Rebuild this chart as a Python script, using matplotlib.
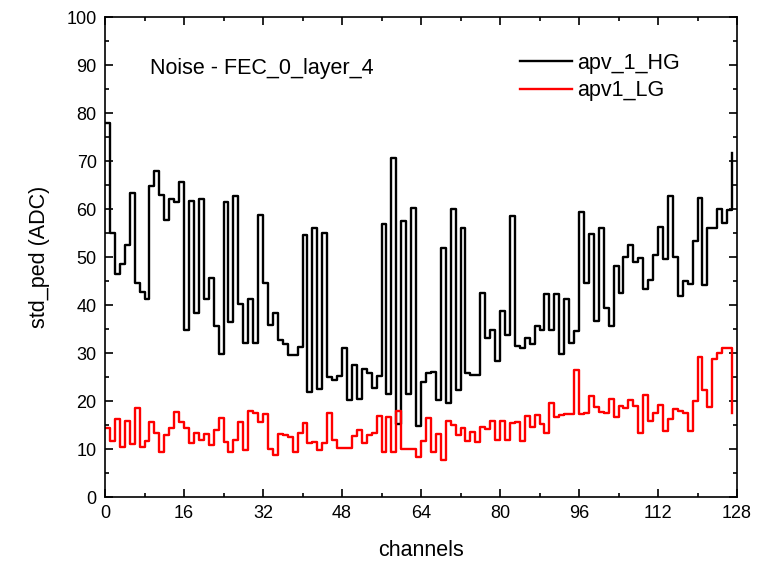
import numpy as np
import matplotlib
matplotlib.use("Agg")
import matplotlib.pyplot as plt
from matplotlib.ticker import MultipleLocator

plt.rcParams['font.family'] = ['Liberation Sans', 'DejaVu Sans']

# Pedestal noise per APV channel
channels = np.arange(128)

apv_1_HG = [
    78.0, 55.0, 46.5, 48.5, 52.4, 63.3, 44.5, 42.8, 41.3, 64.8, 68.0, 63.0, 57.7, 62.0, 61.4, 65.7,
    34.8, 61.7, 38.4, 62.1, 41.3, 45.7, 35.7, 29.8, 61.4, 36.5, 62.8, 40.2, 32.0, 41.2, 32.0, 58.8,
    44.5, 35.8, 38.4, 32.8, 31.9, 29.6, 29.5, 31.3, 54.6, 21.8, 56.1, 22.6, 54.9, 24.9, 24.4, 25.3,
    31.0, 20.2, 27.6, 20.4, 26.6, 25.8, 22.8, 25.3, 56.9, 21.5, 70.6, 15.3, 57.6, 21.4, 60.2, 14.8,
    24.0, 25.8, 26.0, 20.3, 51.9, 19.5, 60.1, 22.3, 56.0, 25.8, 25.5, 25.5, 42.4, 33.1, 34.7, 28.3,
    38.8, 33.8, 58.6, 31.5, 31.1, 33.2, 31.8, 35.7, 34.8, 42.3, 34.8, 42.3, 29.7, 41.3, 32.0, 34.6,
    59.3, 44.6, 54.7, 36.7, 56.1, 39.4, 35.6, 48.2, 42.4, 50.1, 52.4, 48.9, 49.7, 43.3, 45.3, 50.4,
    56.2, 49.6, 62.8, 49.9, 41.9, 44.9, 44.4, 53.4, 62.3, 44.2, 56.0, 56.0, 60.0, 57.0, 59.8, 71.6,
]

apv1_LG = [
    14.3, 11.7, 16.2, 10.5, 15.9, 11.1, 18.5, 10.5, 11.7, 15.6, 13.3, 9.3, 13.0, 14.3, 17.8, 15.6,
    14.3, 11.2, 13.4, 11.9, 13.1, 10.8, 14.0, 16.4, 11.5, 9.4, 11.9, 15.6, 9.8, 18.0, 17.4, 15.7,
    17.2, 10.1, 8.75, 13.1, 12.9, 12.5, 9.4, 13.3, 15.4, 11.2, 11.5, 9.8, 11.2, 17.6, 11.9, 10.3,
    10.2, 10.2, 12.7, 14.0, 11.2, 13.0, 13.3, 16.9, 9.3, 16.6, 9.4, 18.0, 10.1, 10.1, 9.9, 8.4,
    11.7, 16.4, 9.4, 13.1, 7.7, 15.8, 15.0, 13.0, 14.3, 11.7, 13.6, 11.5, 14.6, 14.1, 15.9, 11.9,
    15.9, 11.9, 15.5, 15.7, 11.7, 16.9, 14.6, 17.1, 15.2, 13.3, 19.6, 16.6, 17.1, 17.3, 17.3, 26.5,
    17.2, 17.6, 21.1, 18.7, 17.8, 17.4, 20.4, 16.6, 19.0, 18.5, 20.3, 19.0, 13.3, 21.25, 15.9, 17.6,
    19.2, 13.75, 16.25, 18.3, 18.0, 17.4, 13.75, 19.9, 29.2, 22.3, 18.8, 28.7, 30.1, 31.1, 31.0, 17.5,
]

x_ticks = [0, 16, 32, 48, 64, 80, 96, 112, 128]
y_ticks = [0, 10, 20, 30, 40, 50, 60, 70, 80, 90, 100]

fig = plt.figure(figsize=(7.59, 5.69), dpi=100)
ax = fig.add_axes([105 / 759, 72 / 569, 632 / 759, 480 / 569])

ax.step(channels, apv_1_HG, where='post', color='black', lw=1.7, label='apv_1_HG')
ax.step(channels, apv1_LG, where='post', color='#ff0000', lw=1.7, label='apv1_LG')

ax.set_xlim(0, 128)
ax.set_ylim(0, 100)
ax.set_xticks(x_ticks)
ax.set_yticks(y_ticks)
ax.xaxis.set_minor_locator(MultipleLocator(8))
ax.yaxis.set_minor_locator(MultipleLocator(5))
ax.tick_params(which='both', direction='in', top=True, right=True, width=1.2,
               labelsize=13, pad=6)
ax.tick_params(which='major', length=6)
ax.tick_params(which='minor', length=3)
for sp in ax.spines.values():
    sp.set_linewidth(1.2)

ax.set_xlabel('channels', fontsize=15.5, labelpad=13)
ax.set_ylabel('std_ped (ADC)', fontsize=15.5, labelpad=12)

ax.text(0.071, 0.892, 'Noise - FEC_0_layer_4', transform=ax.transAxes,
        fontsize=15.5, ha='left', va='center')

ax.legend(loc='upper left', bbox_to_anchor=(0.657, 0.925), frameon=False,
          fontsize=15.5, handlelength=2.4, handletextpad=0.25, labelspacing=0.3,
          borderpad=0, borderaxespad=0)

fig.savefig('out.png', dpi=100)
